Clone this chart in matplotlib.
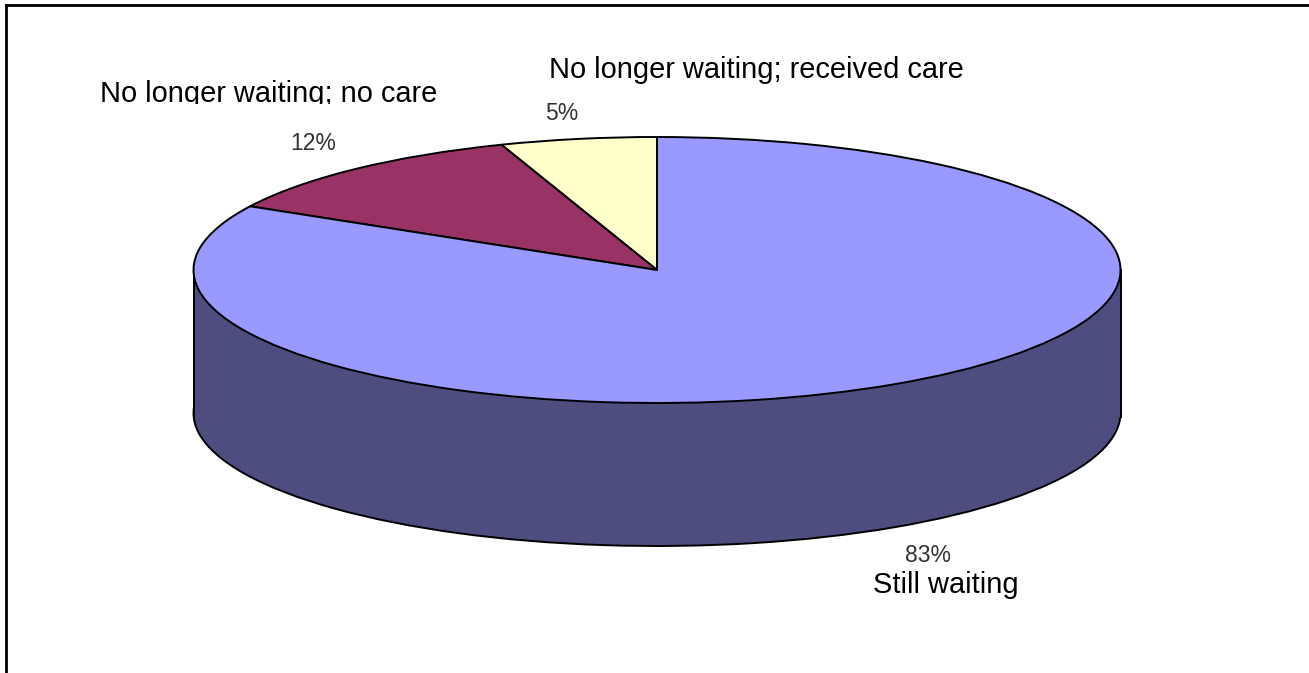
import matplotlib
matplotlib.use("Agg")
import matplotlib.pyplot as plt
from matplotlib.patches import Rectangle

# --- Data ---
shares = [5.45, 11.6, 82.95]
top_colors = ['#FFFFCC', '#993366', '#9999FF']
side_color = '#4D4D80'
names = ['No longer waiting; received care', 'No longer waiting; no care', 'Still waiting']
pct_labels = ['5%', '12%', '83%']

W, H = 1309, 673
cx, cy = 657, 270      # pie centre in pixels
rx, ry = 463.5, 133    # ellipse radii
depth = 143 / ry
nudge = 0.03           # wall runs a hair low to hide the centre of the lower pie

plt.rcParams['font.family'] = ['Liberation Sans', 'DejaVu Sans']

fig = plt.figure(figsize=(W / 100, H / 100), dpi=100, facecolor='white')
left, top = 6, 5
ax = fig.add_axes([left / W, 0, 1 - left / W, 1 - top / H])

edge = {'edgecolor': 'black', 'linewidth': 1.4}

# bottom rim, then the wall, then the top face
ax.pie(shares, colors=[side_color] * 3, startangle=90, center=(0, -depth),
       wedgeprops=edge, normalize=True)
ax.add_patch(Rectangle((-1, -depth - nudge), 2, depth + nudge, facecolor=side_color,
                       edgecolor='none', zorder=1.5))
ax.plot([-1, -1], [-depth - nudge, 0], color='black', lw=1.4, zorder=1.6)
ax.plot([1, 1], [-depth - nudge, 0], color='black', lw=1.4, zorder=1.6)
wedges, _ = ax.pie(shares, colors=top_colors, startangle=90, wedgeprops=edge, normalize=True)
for w in wedges:
    w.set_zorder(2)

ax.set_aspect('auto')
ax.set_xlim((left - cx) / rx, (W - cx) / rx)
ax.set_ylim((cy - H) / ry, (cy - top) / ry)
ax.set_frame_on(True)
ax.set_xticks([])
ax.set_yticks([])
ax.spines['right'].set_visible(False)
ax.spines['bottom'].set_visible(False)
ax.spines['top'].set_linewidth(2)
ax.spines['left'].set_linewidth(2)


def px_text(x, y, s, size, color='black'):
    return fig.text(x / W, 1 - y / H, s, fontsize=size, color=color, ha='left', va='baseline')


px_text(549, 78, names[0], 20.9)
care = px_text(100, 101.5, names[1], 20.9)
# the label is cut off just under the baseline in the original
care.set_clip_path(Rectangle((0, H - 103.5), W, 60, transform=None))
px_text(873, 593, names[2], 20.9)

px_text(545, 120, pct_labels[0], 16.5, '#333333')
px_text(290, 150.5, pct_labels[1], 16.5, '#333333')
px_text(905, 562, pct_labels[2], 16.5, '#333333')

fig.savefig('out.png', dpi=100)
